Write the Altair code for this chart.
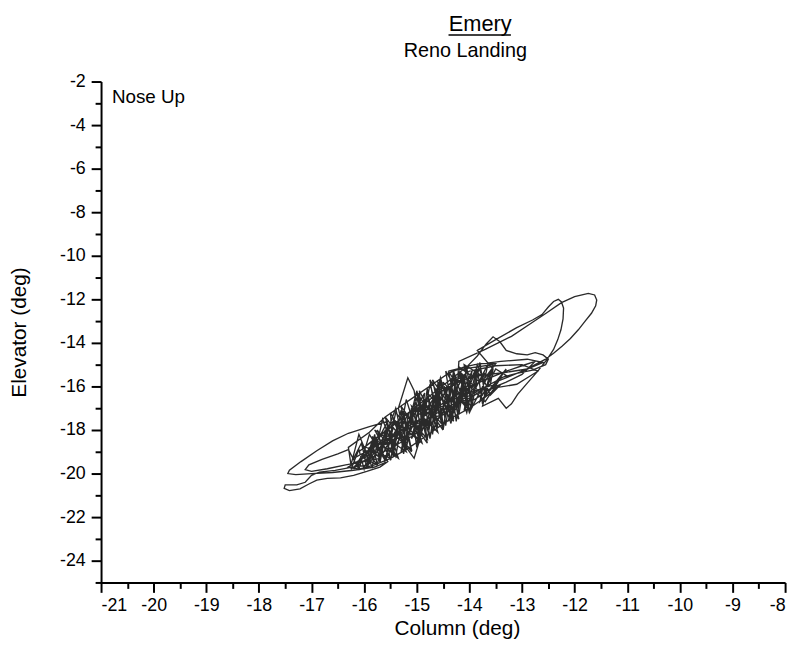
import altair as alt
import pandas as pd

# ---- data (Column deg, Elevator deg), in drawing order ----
tail_x = [-15.95, -16.25, -16.55, -16.85, -17.0, -17.12, -17.28, -17.5, -17.52, -17.42, -17.22, -17.05, -16.9, -16.7, -16.45, -16.2, -15.95, -15.7]
tail_y = [-19.62, -19.72, -19.85, -19.93, -20.08, -20.4, -20.52, -20.52, -20.68, -20.78, -20.7, -20.48, -20.3, -20.22, -20.2, -20.08, -19.9, -19.7]

pass1_x = [-15.55, -15.85, -15.35, -15.6, -15.1, -15.3, -14.8, -15.0, -14.5, -14.7, -14.2, -14.4, -13.95, -14.1, -13.7]
pass1_y = [-19.45, -18.3, -19.3, -17.4, -19.0, -16.9, -18.6, -16.3, -18.0, -15.7, -17.5, -15.3, -17.0, -15.0, -15.6]

band1_x = [-13.5, -13.8, -14.1, -14.4, -14.7, -15.0, -15.3, -15.6, -15.9, -16.3]
band1_y = [-14.95, -14.95, -15.1, -15.4, -15.9, -16.4, -16.9, -17.4, -18.1, -18.8]

pass2_x = [-16.25, -16.1, -15.85, -15.65, -15.4, -15.2, -14.95, -14.75, -14.5, -14.3, -14.05, -13.85, -13.6]
pass2_y = [-19.6, -18.2, -19.7, -17.5, -19.2, -16.6, -18.5, -15.9, -17.9, -15.3, -17.2, -15.0, -16.4]

band2_x = [-13.4, -13.7, -14.0, -14.3, -14.6, -14.9, -15.2, -15.5, -15.8, -16.1, -16.3]
band2_y = [-15.9, -16.5, -17.0, -17.4, -17.9, -18.4, -18.9, -19.3, -19.6, -19.8, -19.7]

loopB_x = [-16.0, -15.75, -15.55, -15.9, -16.3, -16.6, -16.9, -17.2, -17.42, -17.45, -17.3, -17.0, -16.6, -16.2, -15.8]
loopB_y = [-19.25, -18.5, -17.6, -17.85, -18.15, -18.5, -18.95, -19.45, -19.85, -20.0, -20.05, -20.0, -19.95, -19.85, -19.7]

pass3_x = [-15.6, -15.75, -15.45, -15.5, -15.2, -15.35, -15.17, -15.05, -14.9, -14.95, -14.6, -14.75, -14.3, -14.45, -14.05, -14.2, -13.8]
pass3_y = [-19.5, -18.0, -19.1, -17.2, -18.6, -17.0, -15.6, -16.2, -18.3, -16.2, -17.9, -15.7, -17.5, -15.3, -16.9, -15.1, -15.8]

band3_x = [-13.7, -14.0, -14.3, -14.6, -14.9, -15.2, -15.5, -15.8, -16.1]
band3_y = [-15.4, -15.6, -15.9, -16.3, -16.9, -17.3, -17.9, -18.4, -19.0]

spike_x = [-14.05, -13.85, -13.68, -13.55, -13.42, -13.3, -13.1, -12.9, -12.75, -12.6, -12.5, -12.55, -12.8, -13.1, -13.4]
spike_y = [-15.1, -14.6, -14.05, -13.72, -13.95, -14.35, -14.5, -14.55, -14.45, -14.55, -14.75, -15.0, -15.25, -15.4, -15.6]

pass4_x = [-13.7, -14.0, -13.85, -14.25, -14.1, -14.55, -14.4, -14.85, -14.65, -15.1, -14.95, -15.45, -15.25, -15.7, -15.55, -15.95, -15.8, -16.15]
pass4_y = [-16.7, -16.0, -15.1, -16.9, -15.5, -17.4, -16.0, -17.9, -16.4, -18.4, -16.9, -18.9, -17.4, -19.3, -18.0, -19.6, -18.5, -19.7]

band4_x = [-16.0, -15.7, -15.4, -15.1, -14.8, -14.5, -14.2, -13.9, -13.6]
band4_y = [-19.4, -19.1, -18.7, -18.3, -17.8, -17.3, -16.8, -16.4, -15.9]

small_x = [-13.55, -13.85, -13.5, -13.1, -12.8, -12.62, -12.5, -12.4, -12.31, -12.25, -12.21, -12.22, -12.26, -12.32, -12.4, -12.52, -12.7, -12.9, -13.08, -13.2, -13.3]
small_y = [-15.2, -14.35, -13.85, -13.3, -12.95, -12.7, -12.35, -12.1, -12.0, -12.12, -12.4, -12.9, -13.4, -13.85, -14.3, -14.75, -15.3, -15.85, -16.35, -16.8, -17.0]

pass5_x = [-13.45, -13.75, -13.6, -14.0, -14.2, -14.35, -14.6, -14.8, -15.0, -15.2, -15.05, -14.95, -15.4, -15.6, -15.9, -16.1, -16.3]
pass5_y = [-16.55, -16.9, -15.3, -17.2, -15.4, -17.7, -15.9, -18.4, -16.5, -18.8, -19.3, -18.5, -17.2, -19.4, -18.2, -19.8, -18.9]

loopC_x = [-16.5, -16.8, -17.05, -17.12, -17.0, -16.7, -16.35, -16.0, -15.7]
loopC_y = [-19.1, -19.35, -19.6, -19.82, -19.9, -19.78, -19.6, -19.45, -19.3]

band5_x = [-15.9, -15.6, -15.3, -15.0, -14.7, -14.4, -14.1, -13.8]
band5_y = [-18.8, -18.5, -18.0, -17.6, -17.1, -16.6, -16.2, -15.8]

pass6_x = [-14.0, -14.35, -14.55, -14.8, -15.0, -15.25, -15.4, -15.55, -15.1, -15.25, -14.8, -14.95, -14.5, -14.6, -14.25, -14.2]
pass6_y = [-16.0, -17.4, -15.6, -18.0, -16.2, -18.7, -17.0, -18.0, -18.9, -17.2, -18.4, -16.5, -17.8, -15.8, -16.9, -14.85]

big_x = [-13.7, -13.2, -12.87, -12.55, -12.25, -12.0, -11.74, -11.62, -11.58, -11.6, -11.68, -11.8, -11.93, -12.08, -12.24, -12.4, -12.56, -12.75, -12.95, -13.2, -13.45]
big_y = [-14.3, -13.7, -13.17, -12.65, -12.15, -11.88, -11.73, -11.8, -12.03, -12.3, -12.64, -13.0, -13.4, -13.8, -14.15, -14.48, -14.76, -15.0, -15.25, -15.5, -15.75]

pass7_x = [-13.8, -13.65, -14.1, -13.95, -14.4, -14.25, -14.7, -14.55, -15.0, -14.85, -15.3, -15.15, -15.6, -15.45, -15.95, -15.75, -16.2]
pass7_y = [-16.7, -15.0, -17.1, -15.3, -17.6, -15.6, -18.1, -16.1, -18.6, -16.6, -19.0, -17.2, -19.4, -17.9, -19.7, -18.4, -19.8]

pass8_x = [-16.0, -15.7, -15.4, -15.1, -14.8, -14.5, -14.2, -13.9, -13.6, -13.3, -13.0, -12.75,
           -13.0, -13.3, -13.6, -13.9, -14.2, -14.5, -14.8, -15.1, -15.4, -15.7, -16.0]
pass8_y = [-19.0, -18.9, -18.1, -17.9, -17.2, -16.9, -16.3, -15.9, -15.6, -15.3, -15.05, -14.85,
           -15.45, -15.8, -16.1, -16.6, -16.7, -17.3, -17.5, -18.2, -18.4, -18.8, -19.3]

pass9_x = [-15.75, -16.05, -15.5, -15.8, -15.2, -15.45, -14.9, -15.1, -14.6, -14.8, -14.3, -14.5, -14.0, -14.15, -13.75, -13.5, -13.3]
pass9_y = [-19.6, -18.7, -19.3, -18.0, -19.0, -17.5, -18.6, -16.9, -18.1, -16.3, -17.6, -15.8, -17.1, -15.4, -16.4, -15.2, -15.5]

pass10_x = [-16.2, -16.05, -15.95, -15.8, -15.7, -15.55, -15.45, -15.3, -15.2, -15.05, -14.95, -14.8, -14.7, -14.55, -14.45, -14.3, -14.2, -14.05, -13.95, -13.8, -13.7, -13.55]
pass10_y = [-19.3, -18.6, -19.7, -18.2, -19.5, -17.7, -19.2, -17.1, -18.9, -16.7, -18.6, -16.1, -18.2, -15.7, -17.8, -15.4, -17.3, -15.1, -16.9, -14.9, -16.5, -15.0]

fan_x = [-14.4, -13.9, -13.4, -12.9, -12.6, -12.9, -13.3, -13.8, -14.3, -14.0, -13.5, -13.0, -12.7, -13.1, -13.6]
fan_y = [-15.3, -15.0, -14.85, -14.75, -14.9, -15.2, -15.35, -15.5, -15.8, -15.3, -15.05, -15.0, -15.3, -15.9, -16.1]

pass11_x = [-13.3, -13.5, -13.9, -14.3, -14.25, -14.6, -14.9, -14.85, -15.2, -15.5, -15.45, -15.8, -16.1]
pass11_y = [-15.2, -15.9, -16.2, -16.6, -15.6, -16.4, -17.2, -16.3, -17.8, -18.6, -17.6, -18.6, -19.5]

pass12_x = [-16.25, -16.1, -16.0, -15.85, -15.75, -15.6, -15.5, -15.35, -15.25, -15.1, -15.0, -14.85, -14.75, -14.6, -14.5, -14.35, -14.25, -14.1, -14.0, -13.85, -13.75, -13.6]
pass12_y = [-19.8, -18.9, -19.8, -18.5, -19.6, -18.0, -19.4, -17.5, -19.1, -17.0, -18.8, -16.6, -18.4, -16.2, -18.0, -15.9, -17.6, -15.5, -17.2, -15.2, -16.8, -15.3]

x_major = list(range(-21, -7))
x_minor = [v + 0.5 for v in range(-21, -8)]
y_major = list(range(-24, -1, 2))
y_minor = list(range(-25, -2, 2))

segments_x = [tail_x, pass1_x, band1_x, pass2_x, band2_x, loopB_x, pass3_x, band3_x, spike_x,
              pass4_x, band4_x, small_x, pass5_x, loopC_x, band5_x, pass6_x, big_x, pass7_x,
              pass8_x, pass9_x, pass10_x, fan_x, pass11_x, pass12_x]
segments_y = [tail_y, pass1_y, band1_y, pass2_y, band2_y, loopB_y, pass3_y, band3_y, spike_y,
              pass4_y, band4_y, small_y, pass5_y, loopC_y, band5_y, pass6_y, big_y, pass7_y,
              pass8_y, pass9_y, pass10_y, fan_y, pass11_y, pass12_y]

xs, ys = [], []
for sx, sy in zip(segments_x, segments_y):
    xs += sx
    ys += sy
df = pd.DataFrame({"col": xs, "elev": ys, "i": list(range(len(xs)))})

FONT = "Liberation Sans"
W, H = 691, 506

xscale = alt.Scale(domain=[-21, -8], nice=False, zero=False)
yscale = alt.Scale(domain=[-25, -2], nice=False, zero=False)

base = alt.Chart(df)

line = base.mark_line(color="#2a2a2a", strokeWidth=1.35).encode(
    x=alt.X("col:Q", scale=xscale,
            axis=alt.Axis(orient="bottom", values=x_major, tickSize=10, tickWidth=2,
                          domainWidth=2, domainColor="black", tickColor="black",
                          labelFont=FONT, labelFontSize=18, labelColor="black",
                          labelPadding=4, grid=False, labelExpr="'' + datum.value",
                          title="Column (deg)", titleFont=FONT, titleFontSize=21,
                          titleFontWeight="normal", titleColor="black",
                          titleX=W / 2 + 14, titleY=47, titleBaseline="middle",
                          titleAnchor="middle")),
    y=alt.Y("elev:Q", scale=yscale,
            axis=alt.Axis(orient="left", values=y_major, tickSize=10, tickWidth=2,
                          domainWidth=2, domainColor="black", tickColor="black",
                          labelFont=FONT, labelFontSize=18, labelColor="black",
                          labelPadding=6, grid=False, labelExpr="'' + datum.value",
                          title="Elevator (deg)", titleFont=FONT, titleFontSize=21,
                          titleFontWeight="normal", titleColor="black",
                          titleX=-82, titleY=H / 2, titleBaseline="middle",
                          titleAnchor="middle")),
    order=alt.Order("i:Q"),
)

minor = base.mark_line(opacity=0).encode(
    x=alt.X("col:Q", scale=xscale,
            axis=alt.Axis(orient="bottom", values=x_minor, tickSize=6, tickWidth=2,
                          tickColor="black", domain=False, labels=False, grid=False,
                          title=None)),
    y=alt.Y("elev:Q", scale=yscale,
            axis=alt.Axis(orient="left", values=y_minor, tickSize=6, tickWidth=2,
                          tickColor="black", domain=False, labels=False, grid=False,
                          title=None)),
    order=alt.Order("i:Q"),
)

t1 = alt.Chart(pd.DataFrame({"t": ["Emery"]})).mark_text(
    font=FONT, fontSize=22, color="black", align="center", baseline="middle"
).encode(x=alt.value(383), y=alt.value(-58), text="t:N")

underline = alt.Chart(pd.DataFrame({"t": ["u"]})).mark_rule(color="black", strokeWidth=1.5).encode(
    x=alt.value(351), x2=alt.value(414), y=alt.value(-47))

t2 = alt.Chart(pd.DataFrame({"t": ["Reno Landing"]})).mark_text(
    font=FONT, fontSize=20, color="black", align="center", baseline="middle"
).encode(x=alt.value(368), y=alt.value(-31), text="t:N")

nose = alt.Chart(pd.DataFrame({"t": ["Nose Up"]})).mark_text(
    font=FONT, fontSize=19, color="black", align="left", baseline="middle"
).encode(x=alt.value(11), y=alt.value(16), text="t:N")

chart = alt.layer(minor, line, t1, underline, t2, nose).resolve_axis(
    x="independent", y="independent"
).properties(
    width=W, height=H,
    autosize=alt.AutoSizeParams(type="none"),
    padding={"left": 94, "top": 71, "right": 10, "bottom": 70},
).configure_view(stroke=None)

chart.save("out.html", embed_options={"renderer": "svg", "actions": False})
